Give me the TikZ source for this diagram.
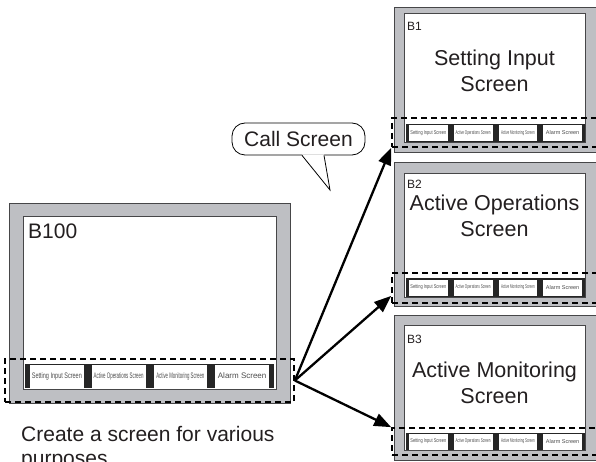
\documentclass[tikz,border=0pt]{standalone}
\usepackage{fontspec}
\setmainfont{Liberation Sans}
\usepackage{graphicx}
\usetikzlibrary{arrows.meta,calc}
\definecolor{panelgray}{RGB}{190,191,195}
\definecolor{edgegray}{RGB}{70,70,72}
\definecolor{inkgray}{RGB}{35,31,32}

\begin{document}
\begin{tikzpicture}[x=1pt,y=-1pt]
	\tikzstyle{panel} = [rectangle, draw=edgegray, fill=panelgray, line width=0.9pt, inner sep=0]
	\tikzstyle{screen} = [rectangle, draw=edgegray, fill=white, line width=0.8pt, inner sep=0]
	\tikzstyle{strip} = [rectangle, fill=black!85, inner sep=0]
	\tikzstyle{btn} = [rectangle, fill=white, inner sep=0, text=black!70]
	\tikzstyle{bar} = [rectangle, draw, dash pattern=on 6pt off 4pt, line width=1.7pt, inner sep=0]
	\tikzstyle{title} = [font={\fontsize{21.5}{26}\selectfont}, text=inkgray, align=center, inner sep=0]
	\tikzstyle{call} = [-{Triangle[length=17pt,width=13pt]}, line width=2.3pt]
	\useasboundingbox (0,0) rectangle (596,462);
	\clip (0,0) rectangle (596,462);
	% base screen
	\node[panel, minimum width=281pt, minimum height=200pt](b100)at (149.5,303){};
	\node[screen, minimum width=253pt, minimum height=173pt](b100scr)at (149.5,302.5){};
	\node[strip, minimum width=249pt, minimum height=24pt](b100strip)at (149.5,376){};
	\foreach \lbl/\sx [count=\i] in {Setting Input Screen/0.69, Active Operations Screen/0.55, Active Monitoring Screen/0.54, Alarm Screen/1}
		\node[btn, minimum width=53.75pt, minimum height=23pt, font={\fontsize{8}{8}\selectfont}](b100btn\i)at ({56.875+(\i-1)*61.75},376){\scalebox{\sx}[1]{\lbl}};
	\node[bar, minimum width=289pt, minimum height=43pt](b100bar)at (149.5,380.5){};
	\node[anchor=base west, inner sep=0, text=inkgray, font={\fontsize{21}{21}\selectfont}](b100name)at (28,238){B100};
	% called screens
	\node[panel, minimum width=206pt, minimum height=145pt](b1)at (497,79.5){};
	\node[screen, minimum width=181pt, minimum height=129pt](b1scr)at (494.5,77.5){};
	\node[strip, minimum width=179pt, minimum height=18pt](b1strip)at (495.5,133){};
	\node[panel, minimum width=206pt, minimum height=144pt](b2)at (497,234){};
	\node[screen, minimum width=181pt, minimum height=124pt](b2scr)at (494.5,235){};
	\node[strip, minimum width=179pt, minimum height=19pt](b2strip)at (495.5,287.5){};
	\node[panel, minimum width=206pt, minimum height=145pt](b3)at (497,387.5){};
	\node[screen, minimum width=181pt, minimum height=125pt](b3scr)at (494.5,387.5){};
	\node[strip, minimum width=179pt, minimum height=17pt](b3strip)at (495.5,441.5){};
	\foreach \p/\y in {b1/133, b2/287.5, b3/441.5}
		\foreach \lbl/\sx [count=\i] in {Setting Input Screen/0.72, Active Operations Screen/0.56, Active Monitoring Screen/0.55, Alarm Screen/1}
			\node[btn, minimum width=38.75pt, minimum height=16pt, font={\fontsize{5.5}{5.5}\selectfont}](\p btn\i)at ({428.375+(\i-1)*44.75},\y){\scalebox{\sx}[1]{\lbl}};
	\node[bar, minimum width=208pt, minimum height=29pt](b1bar)at (496,132.5){};
	\node[bar, minimum width=208pt, minimum height=30pt](b2bar)at (496,288){};
	\node[bar, minimum width=208pt, minimum height=27pt](b3bar)at (496,441.5){};
	\node[anchor=base west, inner sep=0, text=inkgray, font={\fontsize{12}{12}\selectfont}](b1name)at (407,31){B1};
	\node[anchor=base west, inner sep=0, text=inkgray, font={\fontsize{12}{12}\selectfont}](b2name)at (407,189){B2};
	\node[anchor=base west, inner sep=0, text=inkgray, font={\fontsize{12}{12}\selectfont}](b3name)at (407,343){B3};
	\node[title, anchor=north](b1title)at (494.5,50){Setting Input\\Screen};
	\node[title, anchor=north](b2title)at (494.5,195){Active Operations\\Screen};
	\node[title, anchor=north](b3title)at (494.5,362){Active Monitoring\\Screen};
	% speech bubble
	\node[draw, fill=white, rounded corners=13pt, line width=0.8pt, minimum width=133pt, minimum height=32pt, text=inkgray, font={\fontsize{21}{21}\selectfont}](callout)at (298.5,139){Call Screen};
	\coordinate (tailtip) at (330,190);
	\fill[white] ($(callout.south)+(3.5,-1)$) -- (tailtip) -- ($(callout.south)+(25.5,-1)$) -- cycle;
	\draw[line width=0.8pt] ($(callout.south)+(3.5,0)$) -- (tailtip) -- ($(callout.south)+(25.5,0)$);
	% arrows
	\draw[call] (b100bar.east) -- (b1bar.south west);
	\draw[call] (b100bar.east) -- ($(b2bar.south west)!0.25!(b2bar.north west)$);
	\draw[call] (b100bar.east) -- (b3bar.north west);
	\node[anchor=north west, inner sep=0, align=left, text=inkgray, font={\fontsize{21}{24}\selectfont}](note)at (21,426.5){Create a screen for various\\purposes};
\end{tikzpicture}
\end{document}
